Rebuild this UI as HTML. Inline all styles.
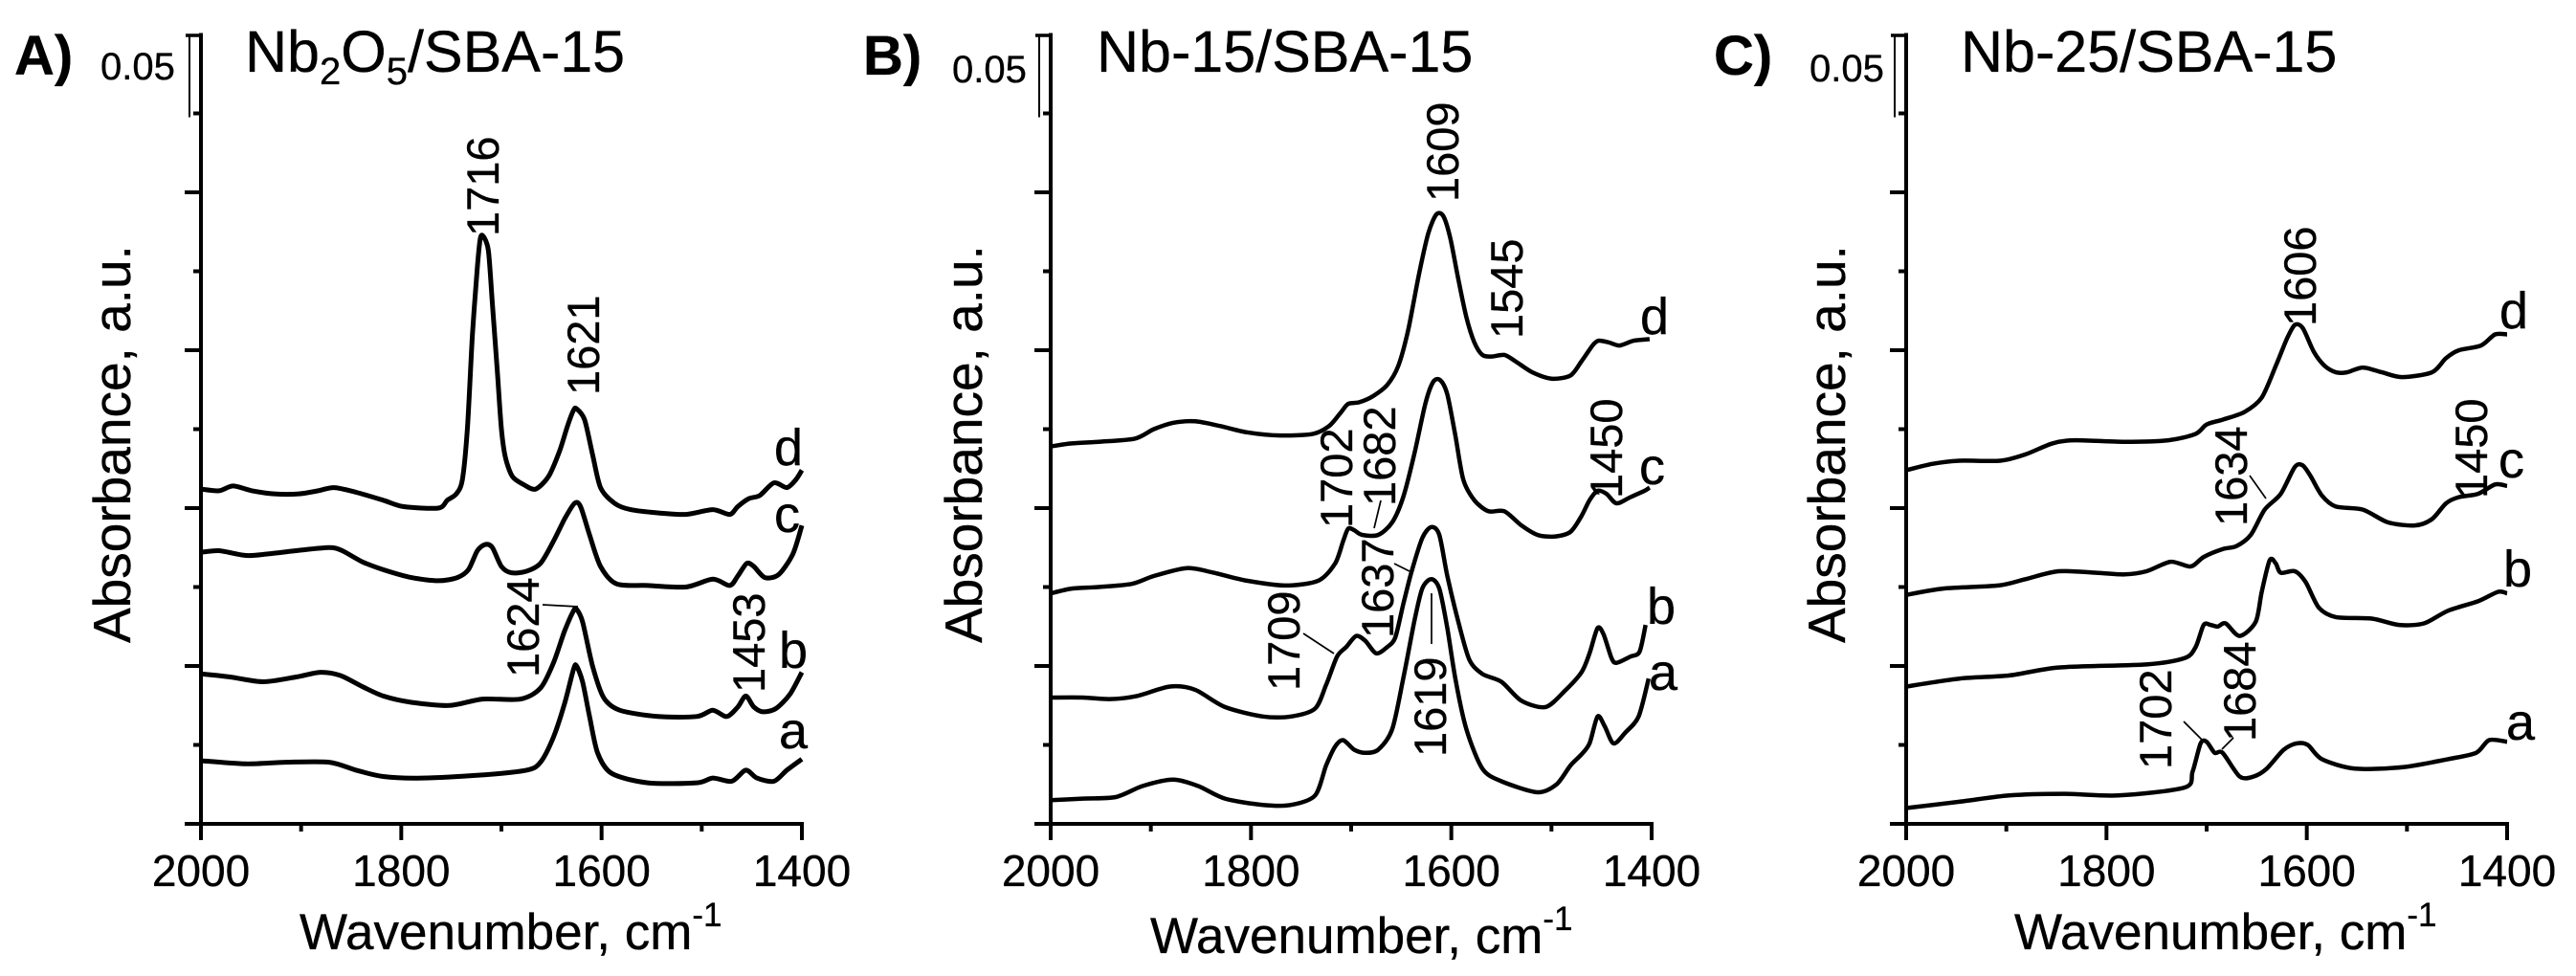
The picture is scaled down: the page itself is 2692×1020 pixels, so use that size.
<!DOCTYPE html>
<html lang="en">
<head>
<meta charset="utf-8">
<title>FTIR spectra of Nb/SBA-15 samples</title>
<style>
html,body{margin:0;padding:0;background:#fff;width:2692px;height:1020px;overflow:hidden}
svg{display:block}
text{font-family:"Liberation Sans",Arial,sans-serif;fill:#000;stroke:#000;stroke-width:.35}
.bold{font-weight:700;font-size:58px}
.title{font-size:61px}
.scale{font-size:40px}
.tick{font-size:46px;text-anchor:middle}
.axt{font-size:53px}
.ylab{font-size:55px}
.ann{font-size:47px}
.let{font-size:54px}
.lead{stroke:#000;stroke-width:1.7;fill:none}
</style>
</head>
<body>
<svg id="chart" xmlns="http://www.w3.org/2000/svg" width="2692" height="1020" viewBox="0 0 2692 1020">
<rect width="2692" height="1020" fill="#fff"/>

<g id="panel-a">
<text class="bold" x="15" y="78">A)</text>
<text class="scale" x="105" y="83">0.05</text>
<text class="title" x="256" y="75">Nb<tspan font-size="40" dy="13">2</tspan><tspan dy="-13">O</tspan><tspan font-size="40" dy="13">5</tspan><tspan dy="-13">/SBA-15</tspan></text>
<text class="ylab" transform="translate(136,672) rotate(-90)">Absorbance, a.u.</text>
<text class="axt" x="313" y="992">Wavenumber, cm<tspan font-size="35" dy="-24">-1</tspan></text>
<text class="ann" transform="translate(521,247) rotate(-90)">1716</text>
<text class="ann" transform="translate(626,413) rotate(-90)">1621</text>
<text class="ann" transform="translate(563,708) rotate(-90)">1624</text>
<text class="ann" transform="translate(799,724) rotate(-90)">1453</text>
<line class="lead" x1="567" y1="632" x2="604" y2="634"/>
<text class="let" x="809" y="486">d</text>
<text class="let" x="809" y="556">c</text>
<text class="let" x="814" y="698">b</text>
<text class="let" x="814" y="782">a</text>
</g>

<g id="panel-b">
<text class="bold" x="902" y="78">B)</text>
<text class="scale" x="995" y="86">0.05</text>
<text class="title" x="1146" y="75">Nb-15/SBA-15</text>
<text class="ylab" transform="translate(1026,672) rotate(-90)">Absorbance, a.u.</text>
<text class="axt" x="1202" y="996">Wavenumber, cm<tspan font-size="35" dy="-24">-1</tspan></text>
<text class="ann" transform="translate(1524,211) rotate(-90)">1609</text>
<text class="ann" transform="translate(1591,354) rotate(-90)">1545</text>
<text class="ann" transform="translate(1413,552) rotate(-90)">1702</text>
<text class="ann" transform="translate(1458,529) rotate(-90)">1682</text>
<text class="ann" transform="translate(1456,667) rotate(-90)">1637</text>
<text class="ann" transform="translate(1358,722) rotate(-90)">1709</text>
<text class="ann" transform="translate(1511,791) rotate(-90)">1619</text>
<text class="ann" transform="translate(1695,521) rotate(-90)">1450</text>
<line class="lead" x1="1443" y1="523" x2="1436" y2="552"/>
<line class="lead" x1="1457" y1="589" x2="1473" y2="597"/>
<line class="lead" x1="1362" y1="662" x2="1394" y2="683"/>
<line class="lead" x1="1496" y1="620" x2="1496" y2="673"/>
<text class="let" x="1714" y="349">d</text>
<text class="let" x="1713" y="506">c</text>
<text class="let" x="1721" y="652">b</text>
<text class="let" x="1723" y="721">a</text>
</g>

<g id="panel-c">
<text class="bold" x="1791" y="78">C)</text>
<text class="scale" x="1891" y="85">0.05</text>
<text class="title" x="2049" y="75">Nb-25/SBA-15</text>
<text class="ylab" transform="translate(1928,672) rotate(-90)">Absorbance, a.u.</text>
<text class="axt" x="2105" y="992">Wavenumber, cm<tspan font-size="35" dy="-24">-1</tspan></text>
<text class="ann" transform="translate(2420,341) rotate(-90)">1606</text>
<text class="ann" transform="translate(2348,550) rotate(-90)">1634</text>
<text class="ann" transform="translate(2599,521) rotate(-90)">1450</text>
<text class="ann" transform="translate(2269,804) rotate(-90)">1702</text>
<text class="ann" transform="translate(2357,775) rotate(-90)">1684</text>
<line class="lead" x1="2351" y1="497" x2="2368" y2="521"/>
<line class="lead" x1="2282" y1="754" x2="2302" y2="774"/>
<line class="lead" x1="2322" y1="783" x2="2334" y2="771"/>
<text class="let" x="2612" y="343">d</text>
<text class="let" x="2611" y="499">c</text>
<text class="let" x="2616" y="613">b</text>
<text class="let" x="2619" y="773">a</text>
</g>
</svg>

<script>
// Tick values
const xTickValues = [2000, 1900, 1800, 1700, 1600, 1500, 1400];
const xTickLabels = ["2000", "", "1800", "", "1600", "", "1400"];
const yTickValues = [0, 50, 100, 150, 200, 250, 300, 350, 400, 450];

// Panel A: wavenumber (cm-1) and absorbance (x 10^-3, offset stacked)
const aWnD = [2000,1982,1968,1949,1927,1902,1883,1867,1845,1818,1798,1763,1754,1745,1739,1734,1729,1724,1721,1718,1713,1709,1704,1700,1696,1689,1678,1666,1653,1642,1634,1628,1625,1617,1609,1601,1587,1571,1544,1516,1489,1472,1464,1453,1442,1428,1415,1406,1400];
const aAbsD = [212,211,214,211,209,209,211,213,210,205,201,200,205,209,218,250,309,353,371,372,363,329,286,250,232,220,215,212,220,236,252,262,263,256,234,213,203,199,197,196,199,196,201,206,208,216,213,218,224];
const aWnC = [2000,1982,1955,1933,1905,1872,1859,1839,1818,1790,1763,1744,1733,1724,1716,1709,1700,1690,1675,1661,1648,1637,1627,1621,1612,1601,1585,1554,1516,1489,1472,1464,1455,1448,1437,1423,1409,1400];
const aAbsC = [172,173,170,171,173,175,173,166,161,156,154,156,161,173,177,175,163,159,160,165,179,193,203,201,183,163,152,151,150,155,151,157,165,163,156,158,171,189];
const aWnB = [2000,1971,1938,1905,1881,1861,1839,1818,1790,1752,1719,1681,1661,1648,1637,1628,1625,1619,1609,1598,1582,1544,1505,1489,1475,1464,1456,1448,1439,1426,1412,1400];
const aAbsB = [95,93,90,93,96,94,87,81,77,75,79,79,86,102,122,135,136,128,100,80,72,68,68,72,68,74,81,74,71,73,82,96];
const aWnA = [2000,1955,1916,1872,1845,1818,1779,1719,1675,1661,1648,1637,1628,1625,1619,1612,1604,1590,1554,1505,1489,1470,1456,1445,1428,1415,1400];
const aAbsA = [40,38,39,39,34,30,29,31,34,39,55,76,98,100,90,68,45,32,26,26,29,27,34,29,27,34,41];

// Panel B
const bWnD = [2000,1979,1952,1916,1897,1878,1856,1831,1804,1771,1738,1722,1711,1703,1692,1678,1664,1653,1643,1632,1623,1615,1608,1601,1593,1585,1577,1569,1560,1547,1536,1519,1500,1481,1470,1459,1453,1443,1432,1418,1402];
const bAbsD = [239,241,242,244,250,254,255,252,248,246,247,252,260,266,267,271,278,290,313,349,374,386,385,371,345,321,305,297,296,297,293,286,282,284,293,303,306,305,303,306,307];
const bWnC = [2000,1979,1952,1919,1897,1864,1837,1804,1766,1733,1716,1708,1703,1697,1689,1673,1659,1648,1637,1626,1618,1611,1604,1596,1588,1577,1563,1547,1530,1514,1497,1481,1470,1462,1454,1445,1435,1421,1407,1402];
const bAbsC = [146,149,150,152,157,162,159,154,151,154,165,179,187,186,183,183,191,207,234,266,280,281,272,246,218,205,198,198,189,183,182,185,195,205,211,209,203,207,211,213];
const bWnB = [2000,1968,1941,1914,1881,1856,1826,1788,1760,1736,1725,1714,1705,1695,1686,1675,1664,1656,1648,1640,1629,1620,1612,1604,1593,1582,1569,1550,1530,1506,1487,1470,1462,1454,1448,1440,1435,1421,1412,1406];
const bAbsB = [80,80,79,81,87,85,74,68,68,73,88,106,112,119,116,108,112,118,139,159,181,188,183,157,128,104,95,90,78,74,84,96,108,124,120,105,102,106,109,126];
const bWnA = [2000,1968,1935,1908,1878,1853,1826,1788,1760,1736,1725,1716,1708,1697,1686,1673,1659,1648,1637,1629,1620,1612,1604,1596,1585,1569,1550,1514,1495,1481,1470,1462,1454,1447,1438,1426,1413,1403];
const bAbsA = [15,16,17,24,28,24,16,12,12,18,37,49,53,47,45,47,60,92,128,149,155,149,124,92,60,35,27,20,25,37,44,51,68,62,51,58,68,92];

// Panel C
const cWnD = [2000,1974,1947,1906,1881,1854,1832,1782,1738,1711,1700,1684,1662,1645,1631,1620,1612,1604,1593,1582,1571,1560,1544,1525,1505,1475,1461,1448,1426,1412,1400];
const cAbsD = [224,228,230,230,234,241,243,242,243,247,253,256,261,270,290,307,316,314,299,290,286,286,289,286,283,286,295,300,303,310,310];
const cWnC = [2000,1963,1908,1881,1848,1810,1782,1760,1736,1716,1703,1684,1670,1656,1642,1626,1612,1604,1596,1585,1571,1544,1519,1492,1475,1461,1448,1429,1412,1400];
const cAbsC = [145,149,151,155,160,159,158,160,166,163,169,174,176,183,199,209,226,227,220,208,201,199,191,189,193,203,207,209,215,214];
const cWnB = [2000,1947,1897,1848,1760,1722,1711,1703,1696,1689,1681,1667,1651,1645,1637,1631,1626,1612,1601,1588,1571,1535,1508,1483,1459,1429,1409,1400];
const cAbsB = [87,92,94,99,101,105,112,126,126,125,127,119,128,147,167,165,159,160,153,137,131,130,126,127,135,141,147,146];
const cWnA = [2000,1947,1897,1843,1788,1722,1714,1706,1700,1692,1684,1667,1653,1640,1623,1610,1599,1585,1552,1503,1459,1431,1418,1400];
const cAbsA = [10,14,18,19,18,23,33,51,52,45,45,30,30,35,47,51,50,41,35,36,41,45,53,52];

const SVGNS = "http://www.w3.org/2000/svg";
const Y0 = 861, YTOP = 36;
const yScale = v => Y0 - v * (Y0 - YTOP) / 500;

function makeLine(parent, x1, y1, x2, y2, w) {
  const l = document.createElementNS(SVGNS, "line");
  l.setAttribute("x1", x1); l.setAttribute("y1", y1);
  l.setAttribute("x2", x2); l.setAttribute("y2", y2);
  l.setAttribute("stroke", "#000"); l.setAttribute("stroke-width", w);
  parent.appendChild(l);
  return l;
}

function smoothPath(px, py) {
  let d = "M" + px[0].toFixed(1) + " " + py[0].toFixed(1);
  for (let i = 0; i < px.length - 1; i++) {
    const i0 = Math.max(0, i - 1), i3 = Math.min(px.length - 1, i + 2);
    const k = 0.14;
    const c1x = px[i] + (px[i + 1] - px[i0]) * k, c1y = py[i] + (py[i + 1] - py[i0]) * k;
    const c2x = px[i + 1] - (px[i3] - px[i]) * k, c2y = py[i + 1] - (py[i3] - py[i]) * k;
    d += "C" + c1x.toFixed(1) + " " + c1y.toFixed(1) + " " + c2x.toFixed(1) + " " + c2y.toFixed(1) + " " + px[i + 1].toFixed(1) + " " + py[i + 1].toFixed(1);
  }
  return d;
}

function drawPanel(id, x0, x1, barX, curveWidth, series) {
  const g = document.getElementById(id);
  const xScale = wn => x0 + (2000 - wn) * (x1 - x0) / 600;

  // y axis
  const yAxis = makeLine(g, x0, YTOP - 1.5, x0, Y0 + 17, 4);
  
  
  // x axis
  const xAxis = makeLine(g, x0 - 17, Y0, x1 + 2, Y0, 4);
  
  

  yTickValues.forEach((v, i) => {
    const len = i % 2 === 0 ? 17 : 8;
    const t = makeLine(g, x0 - len, yScale(v), x0, yScale(v), 4);
    
    
  });

  xTickValues.forEach((v, i) => {
    const len = i % 2 === 0 ? 17 : 8;
    const t = makeLine(g, xScale(v), Y0, xScale(v), Y0 + len, 4);
    
    
    if (xTickLabels[i]) {
      const tx = document.createElementNS(SVGNS, "text");
      tx.setAttribute("class", "tick");
      tx.setAttribute("x", xScale(v));
      tx.setAttribute("y", 926);
      tx.textContent = xTickLabels[i];
      
      
      g.appendChild(tx);
    }
  });

  // 0.05 scale bar
  const barTop = makeLine(g, barX - 4, YTOP + 1, x0 + 2, YTOP + 1, 3.5);
  
  
  const barSide = makeLine(g, barX, YTOP + 1, barX, yScale(450) + 4, 2);
  
  

  series.forEach(s => {
    const p = document.createElementNS(SVGNS, "path");
    p.setAttribute("d", smoothPath(s.wn.map(xScale), s.abs.map(yScale)));
    p.setAttribute("fill", "none");
    p.setAttribute("stroke", "#000");
    p.setAttribute("stroke-width", curveWidth);
    p.setAttribute("stroke-linejoin", "round");
    p.setAttribute("stroke-linecap", "butt");
    
    
    g.appendChild(p);
  });
}

drawPanel("panel-a", 210, 838, 198, 5, [
  {name: "a", wn: aWnA, abs: aAbsA},
  {name: "b", wn: aWnB, abs: aAbsB},
  {name: "c", wn: aWnC, abs: aAbsC},
  {name: "d", wn: aWnD, abs: aAbsD}
]);
drawPanel("panel-b", 1098, 1726, 1086, 4.5, [
  {name: "a", wn: bWnA, abs: bAbsA},
  {name: "b", wn: bWnB, abs: bAbsB},
  {name: "c", wn: bWnC, abs: bAbsC},
  {name: "d", wn: bWnD, abs: bAbsD}
]);
drawPanel("panel-c", 1992, 2620, 1980, 4.5, [
  {name: "a", wn: cWnA, abs: cAbsA},
  {name: "b", wn: cWnB, abs: cAbsB},
  {name: "c", wn: cWnC, abs: cAbsC},
  {name: "d", wn: cWnD, abs: cAbsD}
]);
</script>
</body>
</html>
